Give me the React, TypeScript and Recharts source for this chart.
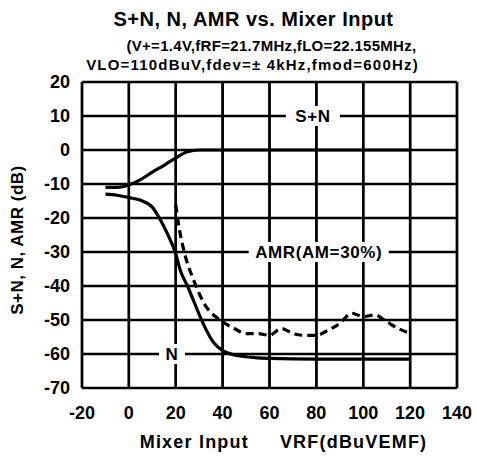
import React from "react";
import {
  LineChart,
  Line,
  XAxis,
  YAxis,
  CartesianGrid,
  ReferenceDot,
} from "recharts";

const xTicks = [-20, 0, 20, 40, 60, 80, 100, 120, 140];
const yTicks = [20, 10, 0, -10, -20, -30, -40, -50, -60, -70];

// S+N
const snX = [-10, -5, 0, 5, 10, 15, 20, 25, 30, 40, 60, 80, 100, 120];
const snY = [-11, -11, -10.3, -8.7, -6.5, -4.5, -2.3, -0.5, 0, 0, 0, 0, 0, 0];

// N
const nX = [-10, -5, 0, 5, 10, 13, 16, 20, 22, 25, 28, 32, 36, 40, 45, 50, 60, 80, 100, 120];
const nY = [-13, -13.3, -14, -14.8, -16.8, -20, -24, -30.5, -35.5, -40, -45, -51.5, -56.5, -59, -60.3, -60.8, -61.3, -61.5, -61.5, -61.5];

// AMR (AM=30%)
const amrX = [20, 21, 24, 27.5, 32, 40, 45, 50, 55, 60, 65, 70, 75, 80, 85, 90, 95, 100, 105, 110, 115, 120];
const amrY = [-16, -21, -31, -38, -45, -50.5, -52.5, -54, -54, -54.5, -52.5, -54, -54.5, -54.5, -53, -51, -48, -49, -48.5, -50.5, -52.5, -54];

const toPoints = (xs: number[], ys: number[]) => xs.map((x, i) => ({ x, y: ys[i] }));

const font = '"Liberation Sans", Arial, sans-serif';

function tagLabel(text: string, w: number) {
  return (props: any) => {
    const vb = props.viewBox || {};
    const cx = vb.x + (vb.width || 0) / 2;
    const cy = vb.y + (vb.height || 0) / 2;
    return (
      <g>
        <rect x={cx - w / 2} y={cy - 10} width={w} height={20} fill="#fff" />
        <text
          x={cx}
          y={cy}
          textAnchor="middle"
          dominantBaseline="central"
          fontFamily={font}
          fontWeight="bold"
          fontSize={17}
          letterSpacing={0.6}
          fill="#000"
        >
          {text}
        </text>
      </g>
    );
  };
}

export default function App() {
  const sn = toPoints(snX, snY);
  const n = toPoints(nX, nY);
  const amr = toPoints(amrX, amrY);
  const yMin = yTicks[yTicks.length - 1];
  const yMax = yTicks[0];
  const gridCols = xTicks.map((x) => [
    { x, y: yMin },
    { x, y: yMax },
  ]);
  const tick = { fill: "#000", fontSize: 18, fontWeight: "bold", fontFamily: font };

  return (
    <div
      style={{
        position: "absolute",
        left: 0,
        top: 0,
        width: 477,
        height: 457,
        background: "#fff",
        fontFamily: font,
        color: "#000",
        fontWeight: "bold",
      }}
    >
      <div style={{ position: "absolute", top: 7, left: 0, width: 507, textAlign: "center", fontSize: 20, letterSpacing: 0.5, lineHeight: "24px" }}>
        S+N, N, AMR vs. Mixer Input
      </div>
      <div style={{ position: "absolute", top: 37, left: 0, width: 543, textAlign: "center", fontSize: 15, letterSpacing: 0.3, lineHeight: "18px" }}>
        (V+=1.4V,fRF=21.7MHz,fLO=22.155MHz,
      </div>
      <div style={{ position: "absolute", top: 56, left: 0, width: 505, textAlign: "center", fontSize: 15, letterSpacing: 1.2, lineHeight: "18px" }}>
        VLO=110dBuV,fdev=± 4kHz,fmod=600Hz)
      </div>
      <div
        style={{
          position: "absolute",
          left: 18,
          top: 240,
          transform: "translate(-50%, -50%) rotate(-90deg)",
          whiteSpace: "nowrap",
          fontSize: 17,
          letterSpacing: 0.5,
          lineHeight: "20px",
        }}
      >
        S+N, N, AMR (dB)
      </div>
      <div
        style={{
          position: "absolute",
          top: 431,
          left: 0,
          width: 567,
          textAlign: "center",
          fontSize: 18,
          letterSpacing: 1.2,
          whiteSpace: "pre",
          lineHeight: "22px",
        }}
      >
        {"Mixer Input     VRF(dBuVEMF)"}
      </div>
      <LineChart width={477} height={457} data={n} margin={{ top: 82, right: 20, bottom: 39, left: 0 }}>
        <CartesianGrid stroke="#000" strokeWidth={2.4} verticalValues={xTicks} horizontalValues={yTicks} />
        <XAxis
          dataKey="x"
          type="number"
          domain={[-20, 140]}
          ticks={xTicks}
          tickLine={false}
          axisLine={false}
          tickMargin={12}
          tick={tick}
          height={30}
        />
        <YAxis
          type="number"
          domain={[-70, 20]}
          ticks={yTicks}
          tickLine={false}
          axisLine={false}
          width={82}
          tickMargin={6}
          tick={tick}
        />
        {gridCols.map((col, i) => (
          <Line
            key={"g" + i}
            data={col}
            dataKey="y"
            type="linear"
            stroke="#000"
            strokeWidth={2.4}
            dot={false}
            activeDot={false}
            isAnimationActive={false}
          />
        ))}
        <Line data={sn} dataKey="y" type="monotone" stroke="#000" strokeWidth={3.2} dot={false} isAnimationActive={false} />
        <Line data={n} dataKey="y" type="monotone" stroke="#000" strokeWidth={3.2} dot={false} isAnimationActive={false} />
        <Line
          data={amr}
          dataKey="y"
          type="monotone"
          stroke="#000"
          strokeWidth={3.2}
          strokeDasharray="8 5"
          dot={false}
          isAnimationActive={false}
        />
        <ReferenceDot x={78.5} y={10} r={1} fill="none" stroke="none" label={tagLabel("S+N", 54)} />
        <ReferenceDot x={81} y={-30} r={1} fill="none" stroke="none" label={tagLabel("AMR(AM=30%)", 140)} />
        <ReferenceDot x={18.4} y={-60} r={1} fill="none" stroke="none" label={tagLabel("N", 26)} />
      </LineChart>
    </div>
  );
}
